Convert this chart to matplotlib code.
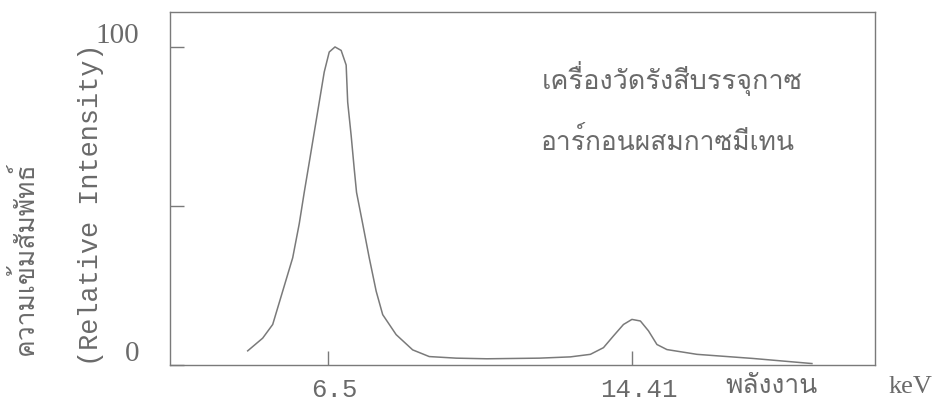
import matplotlib
matplotlib.use("Agg")
import matplotlib.pyplot as plt
import matplotlib.transforms as mtransforms
from matplotlib import font_manager
from matplotlib.ft2font import FT2Font

# ---- data ----
energy_kev = [4.42, 4.81, 5.07, 5.33, 5.59, 5.76, 5.89, 6.02, 6.15, 6.28,
              6.41, 6.54, 6.69, 6.85, 6.98, 7.02, 7.11, 7.19, 7.25, 7.41,
              7.58, 7.76, 7.93, 8.28, 8.71, 9.14, 9.84, 10.64, 12.00, 12.81,
              13.33, 13.67, 13.93, 14.19, 14.41, 14.63, 14.84, 15.06, 15.32,
              16.10, 17.56, 19.09]
rel_intensity = [4.3, 8.3, 12.6, 23.1, 33.6, 44.3, 54.2, 63.6, 73.1, 82.6,
                 92.1, 98.4, 100.0, 98.9, 94.3, 82.6, 72.1, 61.6, 54.2, 44.3,
                 33.6, 23.1, 15.7, 9.4, 4.6, 2.5, 2.0, 1.8, 2.0, 2.4,
                 3.2, 5.3, 9.0, 12.6, 14.2, 13.7, 10.6, 6.3, 4.7,
                 3.2, 1.9, 0.3]
x_ticks = [6.5, 14.41]
x_tick_labels = ["6.5", "14.41"]
y_ticks = [0, 50, 100]
y_tick_labels = ["0", "", "100"]
label_lines = ["เครื่องวัดรังสีบรรจุกาซ", "อาร์กอนผสมกาซมีเทน"]
ylabel_thai = "ความเข้มสัมพัทธ์"
ylabel_en = "(Relative Intensity)"
xlabel_thai = "พลังงาน"
xlabel_unit = "keV"


def find_thai_font():
    seen = set()
    for f in font_manager.fontManager.ttflist:
        if f.fname in seen:
            continue
        seen.add(f.fname)
        try:
            ft = FT2Font(f.fname)
            if ft.get_char_index(ord("ก")) and ft.get_char_index(ord("ั")):
                return f.name
        except Exception:
            pass
    return "DejaVu Sans"


thai_font = find_thai_font()
mono = "Liberation Mono"
serif = "Liberation Serif"
ink = "#6a6a6a"
line_col = "#7a7a7a"

fig = plt.figure(figsize=(9.41, 4.12), dpi=100)
ax = fig.add_axes([170 / 941, (412 - 364.5) / 412, (875 - 170) / 941,
                   (364.5 - 12) / 412])

ax.plot(energy_kev, rel_intensity, color=line_col, lw=1.1)
ax.set_xlim(2.40, 20.73)
ax.set_ylim(0, 111)

for s in ax.spines.values():
    s.set_color(line_col)
    s.set_linewidth(1.0)

ax.set_xticks(x_ticks, x_tick_labels)
ax.set_yticks(y_ticks, y_tick_labels)
ax.tick_params(axis="x", direction="in", length=10, width=1, color=line_col,
               pad=10, labelsize=18.5, labelcolor=ink)
ax.tick_params(axis="y", direction="in", length=10, width=1, color=line_col,
               pad=22, labelsize=21, labelcolor=ink)
for lab in ax.get_xticklabels():
    lab.set_fontfamily(mono)
    lab.set_transform(lab.get_transform() +
                      mtransforms.ScaledTranslation(5 / 72, 0, fig.dpi_scale_trans))
for lab in ax.get_yticklabels():
    lab.set_fontfamily(serif)
    lab.set_transform(lab.get_transform() +
                      mtransforms.ScaledTranslation(0, 10 / 72, fig.dpi_scale_trans))

# annotation inside the plot
ax.text(0.527, 0.81, label_lines[0], transform=ax.transAxes, family=thai_font,
        fontsize=19.5, color=ink, ha="left", va="center")
ax.text(0.525, 0.635, label_lines[1], transform=ax.transAxes, family=thai_font,
        fontsize=19, color=ink, ha="left", va="center")

# y-axis labels
fig.text(24 / 941, 1 - 258 / 412, ylabel_thai, rotation=90, family=thai_font,
         fontsize=19, color=ink, ha="center", va="center")
fig.text(91 / 941, 1 - 205 / 412, ylabel_en, rotation=90, family=mono,
         fontsize=19.4, color=ink, ha="center", va="center")

# x-axis labels
fig.text(772 / 941, 1 - 386 / 412, xlabel_thai, family=thai_font,
         fontsize=19, color=ink, ha="center", va="center")
fig.text(910 / 941, 1 - 387 / 412, xlabel_unit, family=serif,
         fontsize=19, color=ink, ha="center", va="center")

fig.savefig("out.png", dpi=100)
